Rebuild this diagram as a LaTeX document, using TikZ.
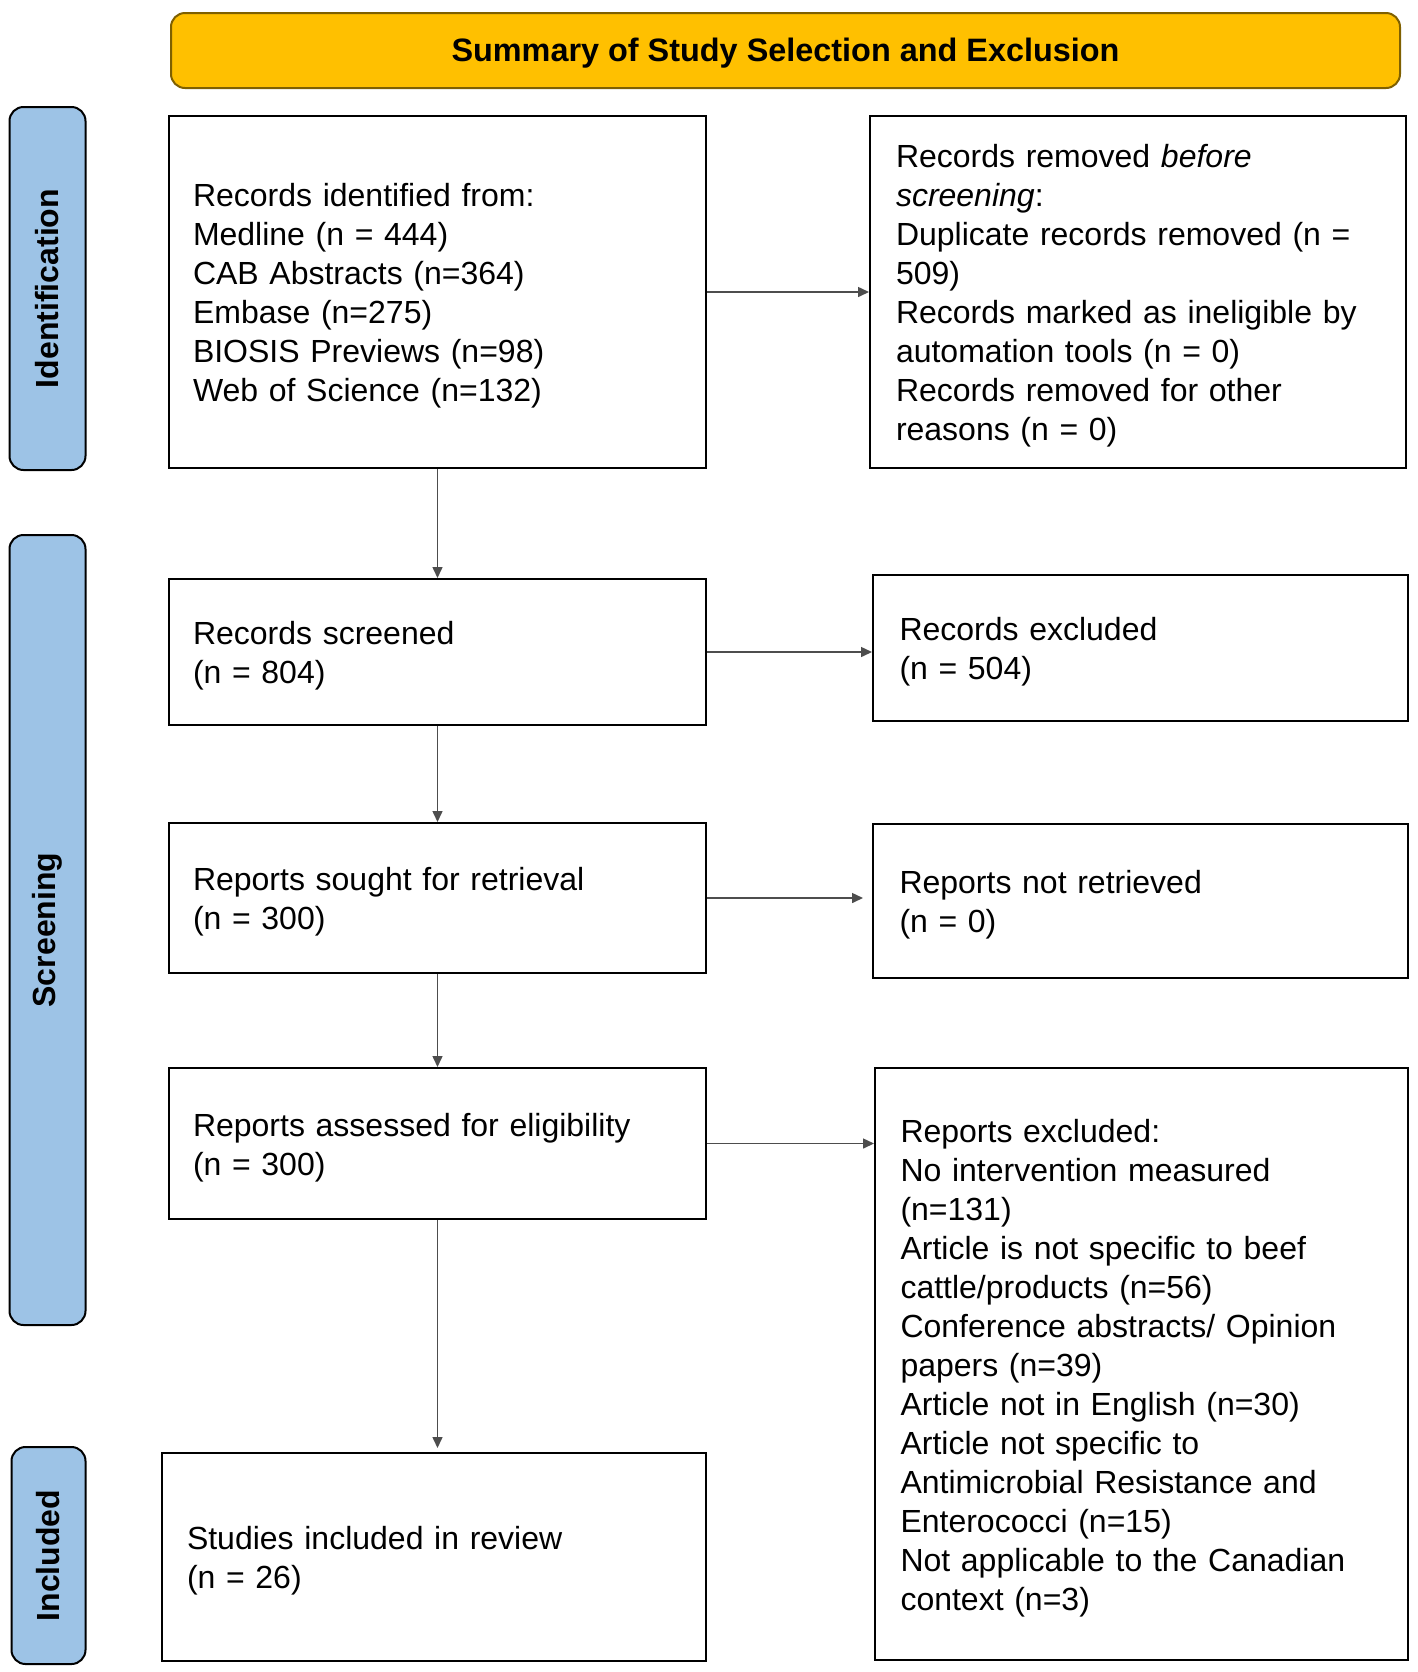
\documentclass[tikz,border=0pt]{standalone}
\usepackage{fontspec}
\setmainfont{Liberation Sans}
\usetikzlibrary{arrows.meta}
\definecolor{titlefill}{HTML}{FFC000}
\definecolor{titledraw}{HTML}{7F6000}
\definecolor{barfill}{HTML}{9DC3E6}
\definecolor{arrowgray}{HTML}{4D4D4D}
\begin{document}
\begin{tikzpicture}[x=0.5pt,y=-0.5pt,
  txt/.style={font=\fontsize{16}{19.5}\selectfont},
  flowbox/.style={draw=black,line width=1pt,fill=white,inner sep=0pt},
  boxtext/.style={align=left,inner sep=0pt,txt},
  sidebar/.style={draw=black,line width=1pt,fill=barfill,rounded corners=7pt,inner sep=0pt,minimum width=38pt},
  sidelabel/.style={font=\fontsize{16}{19.5}\selectfont\bfseries,rotate=90},
  flowarrow/.style={draw=arrowgray,line width=0.75pt,-{Triangle[length=5.5pt,width=5pt]}}]
\useasboundingbox (0,0) rectangle (1418,1672);
\fill[white] (0,0) rectangle (1418,1672);
% title
\node[draw=titledraw,line width=1pt,fill=titlefill,rounded corners=7pt,minimum width=614.5pt,minimum height=37.5pt,inner sep=0pt] (title) at (785.5,50.5) {};
\node[font=\fontsize{16.2}{19.5}\selectfont\bfseries,inner sep=0pt] (titletext) at ([yshift=-1.5pt]title.center) {Summary of Study Selection and Exclusion};
% side bars
\node[sidebar,minimum height=181.5pt] (barid) at (47.5,288.5) {};
\node[sidelabel] (lblid) at (barid.center) {Identification};
\node[sidebar,minimum height=395pt] (barsc) at (47.5,930) {};
\node[sidelabel] (lblsc) at (barsc.center) {Screening};
\node[sidebar,minimum height=108.5pt,minimum width=37pt] (barin) at (48.5,1555.5) {};
\node[sidelabel] (lblin) at (barin.center) {Included};
% boxes
\node[flowbox,minimum width=268.5pt,minimum height=176pt] (b1) at (437.5,292) {};
\node[boxtext,text width=244.5pt] (t1) at ([yshift=-2pt]b1.center) {Records identified from:\\Medline (n = 444)\\CAB Abstracts (n=364)\\Embase (n=275)\\BIOSIS Previews (n=98)\\Web of Science (n=132)};
\node[flowbox,minimum width=268pt,minimum height=176pt] (b2) at (1138,292) {};
\node[boxtext,text width=245pt] (t2) at ([yshift=-2pt,xshift=1.5pt]b2.center) {Records removed \textit{before}\\\textit{screening}:\\Duplicate records removed (n =\\509)\\Records marked as ineligible by\\automation tools (n = 0)\\Records removed for other\\reasons (n = 0)};
\node[flowbox,minimum width=268.5pt,minimum height=73pt] (b3) at (437.5,652) {};
\node[boxtext,text width=244.5pt] (t3) at ([yshift=-2pt]b3.center) {Records screened\\(n = 804)};
\node[flowbox,minimum width=267.5pt,minimum height=73pt] (b4) at (1140.5,648) {};
\node[boxtext,text width=244pt] (t4) at ([yshift=-2pt,xshift=1.5pt]b4.center) {Records excluded\\(n = 504)};
\node[flowbox,minimum width=268.5pt,minimum height=75pt] (b5) at (437.5,898) {};
\node[boxtext,text width=244.5pt] (t5) at ([yshift=-2pt]b5.center) {Reports sought for retrieval\\(n = 300)};
\node[flowbox,minimum width=267.5pt,minimum height=77pt] (b6) at (1140.5,901) {};
\node[boxtext,text width=244pt] (t6) at ([yshift=-2pt,xshift=1.5pt]b6.center) {Reports not retrieved\\(n = 0)};
\node[flowbox,minimum width=268.5pt,minimum height=75.5pt] (b7) at (437.5,1143.5) {};
\node[boxtext,text width=244.5pt] (t7) at ([yshift=-2pt]b7.center) {Reports assessed for eligibility\\(n = 300)};
\node[flowbox,minimum width=266.5pt,minimum height=296pt] (b8) at (1141.5,1364) {};
\node[boxtext,text width=244pt] (t8) at ([yshift=-2pt,xshift=1.5pt]b8.center) {Reports excluded:\\No intervention measured\\(n=131)\\Article is not specific to beef\\cattle/products (n=56)\\Conference abstracts/ Opinion\\papers (n=39)\\Article not in English (n=30)\\Article not specific to\\Antimicrobial Resistance and\\Enterococci (n=15)\\Not applicable to the Canadian\\context (n=3)};
\node[flowbox,minimum width=272pt,minimum height=104pt] (b9) at (434,1557) {};
\node[boxtext,text width=246pt] (t9) at ([yshift=-2pt,xshift=-0.5pt]b9.center) {Studies included in review\\(n = 26)};
% arrows
\draw[flowarrow] (b1.east) -- (b1.east -| b2.west);
\draw[flowarrow] (b3.east) -- (b3.east -| b4.west);
\draw[flowarrow,shorten >=4.5pt] (b5.east) -- (b5.east -| b6.west);
\draw[flowarrow] (b7.east) -- (b7.east -| b8.west);
\draw[flowarrow] (b1.south) -- (b3.north);
\draw[flowarrow] (b3.south) -- (b5.north);
\draw[flowarrow] (b5.south) -- (b7.north);
\draw[flowarrow,shorten >=2pt] (b7.south) -- (b7.south |- b9.north);
\end{tikzpicture}
\end{document}
